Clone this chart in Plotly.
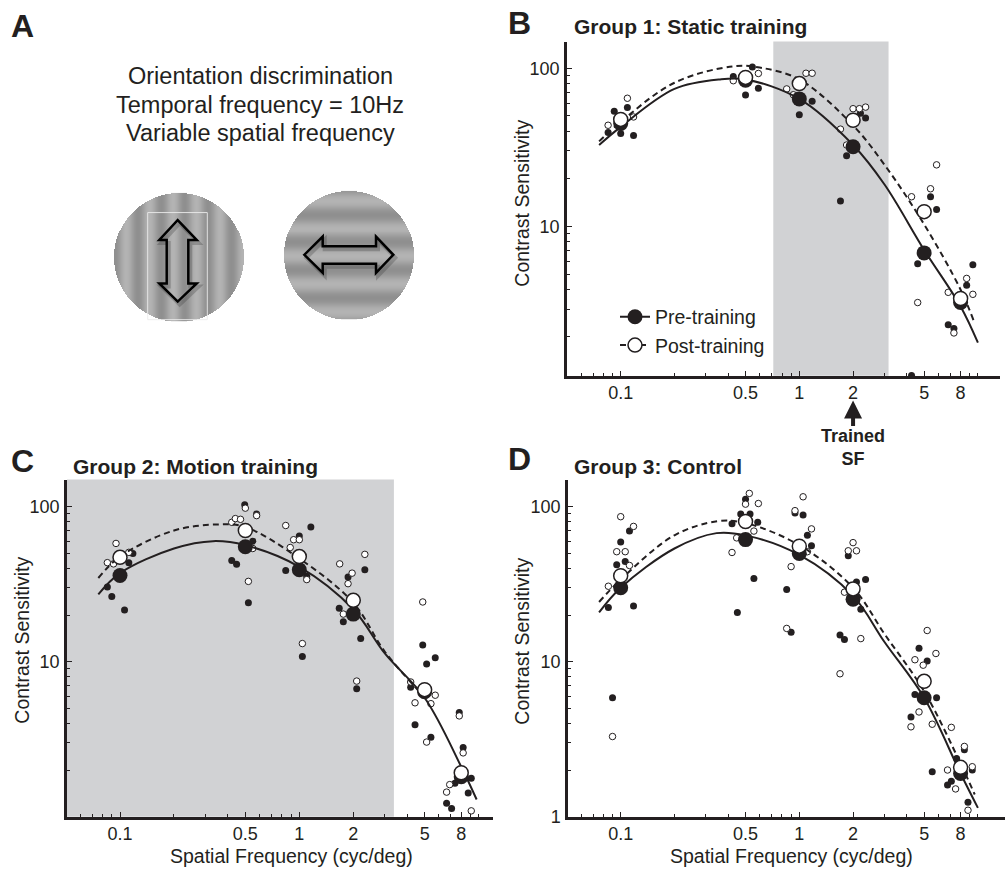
import numpy as np
import plotly.graph_objects as go

# ---------------- data ----------------
SF = [0.1, 0.5, 1, 2, 5, 8]
SF_TEXT = ['0.1', '0.5', '1', '2', '5', '8']

# Panel B - Group 1: Static training
B_pre_x = [0.085, 0.092, 0.109, 0.1, 0.118, 0.427, 0.546, 0.5, 0.59, 1.0, 1.18, 1.84, 1.70, 2.35, 2.2,
           4.6, 5.43, 5.87, 4.25, 6.82, 7.34, 8.65, 9.37]
B_pre_y = [39.3, 53.4, 56.5, 38.7, 37.6, 88.7, 102, 67.8, 74.6, 50.8, 61.9, 28, 14.5, 48.4, 52,
           5.8, 15.4, 12.8, 1.14, 2.39, 2.26, 4.24, 5.73]
B_post_x = [0.085, 0.109, 0.118, 0.427, 0.59, 0.85, 0.926, 1.09, 1.18, 1.70, 1.84, 2.0, 2.17, 2.35,
            4.25, 5.43, 5.87, 4.6, 6.82, 7.34, 8.65, 9.37]
B_post_y = [43.6, 64.6, 49.2, 83.4, 92.7, 74, 68, 93, 93, 41.2, 32.7, 55.5, 55.5, 56.8,
            15.4, 17.3, 24.5, 3.3, 3.83, 2.12, 4.69, 3.72]
B_pre_mean = [44.7, 84, 64, 31.9, 6.8, 3.3]
B_post_mean = [47.5, 87.5, 80, 46.9, 12.4, 3.5]
B_pre_fit_x = [0.0757, 0.1, 0.2, 0.36, 0.5, 1, 2, 3, 5, 8, 10.0]
B_pre_fit_y = [32.7, 42.6, 74, 85, 85, 64, 32.7, 18.4, 7.1, 3.12, 1.84]
B_post_fit_x = [0.0757, 0.1, 0.2, 0.43, 0.6, 1, 2, 3, 5, 8, 9.5]
B_post_fit_y = [34.5, 45.8, 81, 103, 101, 85, 43.5, 24.5, 10.3, 3.98, 2.51]

# Panel C - Group 2: Motion training
C_pre_x = [0.085, 0.09, 0.106, 0.118, 0.112, 0.42, 0.447, 0.52, 0.496, 0.578, 0.55, 0.84, 1.0, 1.16,
           1.04, 1.1, 1.67, 1.76, 1.87, 2.2, 2.32, 2.09, 4.18, 4.42, 4.88, 5.13, 5.73, 5.42, 7.8, 8.2,
           6.63, 7.07, 8.75, 9.1, 7.38]
C_pre_y = [30.4, 26.4, 21.6, 50, 43.6, 45, 42.6, 24, 103, 89.8, 60, 38.8, 64.7, 74,
           10.8, 35.6, 22.1, 18.1, 35.2, 14.1, 39.2, 6.7, 6.84, 3.92, 12.8, 9.67, 10.6, 3.26, 4.7, 2.79,
           1.22, 1.13, 1.42, 1.77, 1.64]
C_post_x = [0.095, 0.085, 0.112, 0.092, 0.42, 0.44, 0.47, 0.5, 0.578, 0.55, 0.52, 0.84, 0.93, 1.0,
            0.89, 1.04, 1.1, 1.68, 1.87, 1.97, 1.76, 2.32, 2.09, 4.18, 4.42, 4.88, 5.42, 5.73, 5.13,
            7.8, 8.2, 6.63, 6.9, 9.1]
C_post_y = [58, 43.6, 50.8, 42.8, 79.4, 83.9, 83, 98, 87.7, 53.8, 33, 75.7, 61.3, 61.3,
            54.6, 13.1, 33.9, 42.8, 31.9, 37.3, 20.3, 49.3, 7.5, 7.4, 5.43, 24.3, 5.36, 6.08, 3.03,
            4.47, 2.58, 1.44, 1.61, 1.09]
C_pre_mean = [36, 55.2, 39.2, 20.3, 6.4, 1.81]
C_post_mean = [47.2, 70.3, 47.7, 24.9, 6.6, 1.92]
C_pre_fit_x = [0.0757, 0.1, 0.2, 0.33, 0.5, 1, 2, 3, 5, 8, 9.75]
C_pre_fit_y = [27.2, 37.3, 53.8, 60, 56.5, 41, 21.8, 11.3, 5.85, 2.1, 1.29]
C_post_fit_x = [0.0757, 0.1, 0.2, 0.36, 0.5, 1, 2, 3, 5]
C_post_fit_y = [34.7, 47.7, 70.3, 77, 74, 46.4, 24, 11.6, 5.9]

# Panel D - Group 3: Control
D_pre_x = [0.0853, 0.09, 0.095, 0.1, 0.106, 0.112, 0.118, 0.42, 0.45, 0.47, 0.5, 0.53, 0.557, 0.585,
           0.85, 0.9, 0.946, 1.05, 1.11, 1.17, 1.69, 1.79, 1.88, 2.09, 2.21, 2.35, 4.22, 4.44, 4.68,
           5.2, 5.87, 5.55, 6.76, 7.1, 7.6, 8.4, 9.3, 8.8]
D_pre_y = [22.4, 5.85, 42.2, 59.3, 44.3, 69.7, 22.9, 77.6, 20.8, 89.8, 112, 89.8, 34.4, 79.4,
           29.3, 15.5, 91.2, 88.5, 65.4, 56, 14.9, 13.9, 48.3, 32.7, 21.8, 33.9, 4.4, 6.14, 12.2,
           10.1, 5.85, 1.95, 1.6, 1.69, 2.37, 2.7, 2.0, 1.24]
D_post_x = [0.0853, 0.09, 0.095, 0.1, 0.106, 0.112, 0.118, 0.42, 0.446, 0.5, 0.525, 0.59, 0.557,
            0.85, 0.9, 0.946, 1.05, 1.17, 1.11, 1.69, 1.79, 1.88, 2.0, 2.09, 2.21, 4.22, 4.44, 4.68,
            4.94, 5.2, 5.82, 5.55, 6.76, 7.1, 7.5, 8.4, 9.3, 8.8]
D_post_y = [30.7, 3.29, 51.3, 86.3, 51.3, 41.8, 74.7, 50.7, 63, 104, 122, 105, 69.7,
            16.4, 41.1, 94.4, 116, 72, 51.3, 8.36, 28.1, 52, 58.7, 52, 14.1, 3.8, 10.3, 4.74,
            9.5, 15.9, 11.3, 3.95, 2.0, 3.77, 1.51, 2.84, 2.1, 1.1]
D_pre_mean = [30, 61.4, 50, 25.3, 5.85, 1.9]
D_post_mean = [35.9, 80.4, 55.7, 29.5, 7.47, 2.08]
D_pre_fit_x = [0.0757, 0.1, 0.2, 0.344, 0.5, 1, 2, 3, 5, 8, 10]
D_pre_fit_y = [20.8, 30, 53.8, 67.6, 65.4, 48.9, 26.6, 13.4, 5.85, 1.9, 1.14]
D_post_fit_x = [0.0757, 0.1, 0.2, 0.35, 0.5, 1, 2, 3, 5, 8, 9.6]
D_post_fit_y = [24.3, 33.9, 65.5, 80.7, 78.4, 56.5, 30, 15.1, 6.44, 2.2, 1.39]

Y_TICKS_BC = [10, 100]
Y_TICKS_D = [1, 10, 100]
X_MINOR = [0.06, 0.07, 0.08, 0.09, 0.2, 0.3, 0.4, 0.6, 0.7, 0.8, 0.9, 3, 4, 6, 7, 9, 10]
Y_MINOR = [2, 3, 4, 5, 6, 7, 8, 9, 20, 30, 40, 50, 60, 70, 80, 90]

# ---------------- style ----------------
W, H = 1006, 884
FONT = "Liberation Sans, Arial, Helvetica, sans-serif"
INK = "#231f20"
SHADE = "#d1d2d4"


def px(x):
    return x / W


def py(y):
    return 1 - y / H


fig = go.Figure()


def add_panel(xa, ya, pre_x, pre_y, post_x, post_y, pre_m, post_m,
              pfx, pfy, qfx, qfy, legend=False):
    common = dict(xaxis=xa, yaxis=ya, hoverinfo="skip", cliponaxis=False)
    fig.add_trace(go.Scatter(x=pre_x, y=pre_y, mode="markers", showlegend=False,
                             marker=dict(size=7, color=INK, line=dict(width=0)), **common))
    fig.add_trace(go.Scatter(x=post_x, y=post_y, mode="markers", showlegend=False,
                             marker=dict(size=6.5, color="white", line=dict(width=1, color=INK)),
                             **common))
    fig.add_trace(go.Scatter(x=pfx, y=pfy, mode="lines", showlegend=False,
                             line=dict(color=INK, width=2, shape="spline"), **common))
    fig.add_trace(go.Scatter(x=qfx, y=qfy, mode="lines", showlegend=False,
                             line=dict(color=INK, width=2, shape="spline", dash="6px,4px"), **common))
    fig.add_trace(go.Scatter(x=SF, y=pre_m, mode="markers", showlegend=False,
                             marker=dict(size=15, color=INK, line=dict(width=0)), **common))
    fig.add_trace(go.Scatter(x=SF, y=post_m, mode="markers", showlegend=False,
                             marker=dict(size=14, color="white", line=dict(width=1.5, color=INK)),
                             **common))
    if legend:
        fig.add_trace(go.Scatter(x=[None], y=[None], mode="lines+markers", name="Pre-training",
                                 xaxis=xa, yaxis=ya,
                                 marker=dict(size=15, color=INK),
                                 line=dict(color=INK, width=2)))
        fig.add_trace(go.Scatter(x=[None], y=[None], mode="lines+markers", name="Post-training",
                                 xaxis=xa, yaxis=ya,
                                 marker=dict(size=14, color="white", line=dict(width=1.5, color=INK)),
                                 line=dict(color=INK, width=2, dash="6px,4px")))


add_panel("x", "y", B_pre_x, B_pre_y, B_post_x, B_post_y, B_pre_mean, B_post_mean,
          B_pre_fit_x, B_pre_fit_y, B_post_fit_x, B_post_fit_y, legend=True)
add_panel("x2", "y2", C_pre_x, C_pre_y, C_post_x, C_post_y, C_pre_mean, C_post_mean,
          C_pre_fit_x, C_pre_fit_y, C_post_fit_x, C_post_fit_y)
add_panel("x3", "y3", D_pre_x, D_pre_y, D_post_x, D_post_y, D_pre_mean, D_post_mean,
          D_pre_fit_x, D_pre_fit_y, D_post_fit_x, D_post_fit_y)

# ---------------- panel A grating stimuli ----------------
N = 130
g = np.arange(N) + 0.5
GX, GY = np.meshgrid(g, g)
mask = (GX - N / 2) ** 2 + (GY - N / 2) ** 2 > (N / 2) ** 2
z_vert = 0.5 - 0.5 * np.cos(2 * np.pi * (GX - 24) / 23.4)
z_horz = 0.5 - 0.5 * np.cos(2 * np.pi * (GY - 24) / 28.0)
z_vert[mask] = np.nan
z_horz[mask] = np.nan
gray = [[0, "#8f8f8f"], [1, "#b3b3b3"]]
fig.add_trace(go.Heatmap(z=z_vert, x=g, y=g, xaxis="x4", yaxis="y4", colorscale=gray,
                         showscale=False, hoverinfo="skip", zmin=0, zmax=1))
fig.add_trace(go.Heatmap(z=z_horz, x=g, y=g, xaxis="x5", yaxis="y5", colorscale=gray,
                         showscale=False, hoverinfo="skip", zmin=0, zmax=1))

# ---------------- axes ----------------
def xaxis_cfg(dom, rng, anchor):
    return dict(type="log", domain=dom, range=rng, anchor=anchor,
                showline=True, linewidth=2.5, linecolor=INK, mirror=False,
                showgrid=False, zeroline=False,
                tickmode="array", tickvals=SF, ticktext=SF_TEXT,
                ticks="inside", ticklen=5, tickwidth=1, tickcolor=INK,
                ticklabelstandoff=-1,
                minor=dict(tickmode="array", tickvals=X_MINOR, ticks="inside", ticklen=3,
                           tickwidth=1, tickcolor=INK),
                tickfont=dict(family=FONT, size=18, color=INK))


def yaxis_cfg(dom, rng, anchor, ticks):
    return dict(type="log", domain=dom, range=rng, anchor=anchor,
                showline=True, linewidth=2.5, linecolor=INK, mirror=False,
                showgrid=False, zeroline=False,
                tickmode="array", tickvals=ticks, ticktext=[str(t) for t in ticks],
                ticks="inside", ticklen=5, tickwidth=1, tickcolor=INK,
                ticklabelstandoff=1,
                minor=dict(tickmode="array", tickvals=Y_MINOR, ticks="inside", ticklen=3,
                           tickwidth=1, tickcolor=INK),
                tickfont=dict(family=FONT, size=18, color=INK))


hidden = dict(visible=False, showgrid=False, zeroline=False)

fig.update_layout(
    width=W, height=H, margin=dict(l=0, r=0, t=0, b=0),
    paper_bgcolor="white", plot_bgcolor="rgba(0,0,0,0)",
    showlegend=True,
    legend=dict(x=px(615), y=py(301), xanchor="left", yanchor="top",
                bgcolor="rgba(0,0,0,0)", font=dict(family=FONT, size=19.5, color=INK),
                itemsizing="trace", tracegroupgap=0),
    xaxis=xaxis_cfg([px(567), px(1000)], [-1.3007, 1.1237], "y"),
    yaxis=yaxis_cfg([py(380), py(42)], [0.056, 2.169], "x", Y_TICKS_BC),
    xaxis2=xaxis_cfg([px(67), px(493)], [-1.2956, 1.0803], "y2"),
    yaxis2=yaxis_cfg([py(826), py(485)], [0.0, 2.176], "x2", Y_TICKS_BC),
    xaxis3=xaxis_cfg([px(568), px(1005)], [-1.295, 1.1517], "y3"),
    yaxis3=yaxis_cfg([py(826), py(485)], [0.0, 2.176], "x3", Y_TICKS_D),
    xaxis4=dict(domain=[px(114), px(244)], range=[0, N], anchor="y4", **hidden),
    yaxis4=dict(domain=[py(325), py(195)], range=[N, 0], anchor="x4", **hidden),
    xaxis5=dict(domain=[px(284), px(414)], range=[0, N], anchor="y5", **hidden),
    yaxis5=dict(domain=[py(323), py(193)], range=[N, 0], anchor="x5", **hidden),
)

# ---------------- shapes ----------------
shapes = [
    dict(type="rect", xref="x", yref="y domain", x0=0.715, x1=3.16, y0=0, y1=1,
         fillcolor=SHADE, line=dict(width=0), layer="below"),
    dict(type="rect", xref="x2", yref="y2 domain", x0=0.0506, x1=3.37, y0=0, y1=1,
         fillcolor=SHADE, line=dict(width=0), layer="below"),
    dict(type="rect", xref="x4", yref="y4", x0=33.7, x1=93.3, y0=20, y1=128.3,
         line=dict(color="rgba(235,235,235,0.9)", width=1), fillcolor="rgba(0,0,0,0)"),
]
v_path = ("M 63.7,27.7 L 82.7,47.7 L 74.3,47.7 L 74.3,91.7 L 82.7,91.7 L 63.7,110 "
          "L 45.3,91.7 L 52.7,91.7 L 52.7,47.7 L 45.3,47.7 Z")
h_path = ("M 20.3,64.7 L 38.7,46.3 L 38.7,56 L 92,56 L 92,46.3 L 109.3,64.7 L 92,83 "
          "L 92,73.7 L 38.7,73.7 L 38.7,83 Z")
v_shadow = ("M 65.7,30.7 L 84.7,50.7 L 76.3,50.7 L 76.3,94.7 L 84.7,94.7 L 65.7,113 "
            "L 47.3,94.7 L 54.7,94.7 L 54.7,50.7 L 47.3,50.7 Z")
h_shadow = ("M 22.3,67.7 L 40.7,49.3 L 40.7,59 L 94,59 L 94,49.3 L 111.3,67.7 L 94,86 "
            "L 94,76.7 L 40.7,76.7 L 40.7,86 Z")
shapes += [
    dict(type="path", xref="x4", yref="y4", path=v_shadow,
         line=dict(color="rgba(40,40,40,0.25)", width=4)),
    dict(type="path", xref="x5", yref="y5", path=h_shadow,
         line=dict(color="rgba(40,40,40,0.25)", width=4)),
    dict(type="path", xref="x4", yref="y4", path=v_path, line=dict(color="black", width=2.5)),
    dict(type="path", xref="x5", yref="y5", path=h_path, line=dict(color="black", width=2.5)),
]
fig.update_layout(shapes=shapes)

# ---------------- annotations ----------------
ann = []


def txt(x, y, s, size, bold=False, xanchor="center", angle=0, xref="paper"):
    ann.append(dict(x=x, y=y, xref=xref, yref="paper", text=("<b>%s</b>" % s) if bold else s,
                    showarrow=False, xanchor=xanchor, yanchor="middle", textangle=angle,
                    font=dict(family=FONT, size=size, color=INK)))


# panel letters
txt(px(22.5), py(26), "A", 32, bold=True)
txt(px(519), py(23), "B", 32, bold=True)
txt(px(22.5), py(466), "C", 32, bold=True)
txt(px(519), py(464), "D", 32, bold=True)
# titles
txt(px(572), py(27), "Group 1: Static training", 21, bold=True, xanchor="left")
txt(px(71), py(472), "Group 2: Motion training", 21, bold=True, xanchor="left")
txt(px(572), py(472), "Group 3: Control", 21, bold=True, xanchor="left")
# panel A text
txt(px(260), py(77), "Orientation discrimination", 23.5)
txt(px(260), py(106), "Temporal frequency = 10Hz", 23.5)
txt(px(260), py(135), "Variable spatial frequency", 23.5)
# axis titles
txt(px(522), py(206), "Contrast Sensitivity", 19.5, angle=-90)
txt(px(22), py(648), "Contrast Sensitivity", 19.5, angle=-90)
txt(px(522), py(649), "Contrast Sensitivity", 19.5, angle=-90)
txt(px(291), py(866), "Spatial Frequency (cyc/deg)", 19.5)
txt(px(791), py(866), "Spatial Frequency (cyc/deg)", 19.5)
# trained SF
txt(np.log10(2), py(453), "Trained<br>SF", 18, bold=True, xref="x")
ann.append(dict(x=np.log10(2), y=py(405), xref="x", yref="paper", text="", showarrow=True,
                ax=0, ay=27, axref="pixel", ayref="pixel", arrowhead=2, arrowsize=0.9,
                arrowwidth=4, arrowcolor=INK))
fig.update_layout(annotations=ann)

POST = ("document.documentElement.style.margin='0';"
        "document.documentElement.style.overflow='hidden';"
        "document.body.style.margin='0';"
        "document.body.style.overflow='hidden';"
        "var gd=document.querySelector('.plotly-graph-div');"
        "if(gd&&gd.parentElement){gd.parentElement.style.height='884px';"
        "gd.parentElement.style.overflow='hidden';}")
fig.write_html("out.html", post_script=POST, config={"displayModeBar": False})
